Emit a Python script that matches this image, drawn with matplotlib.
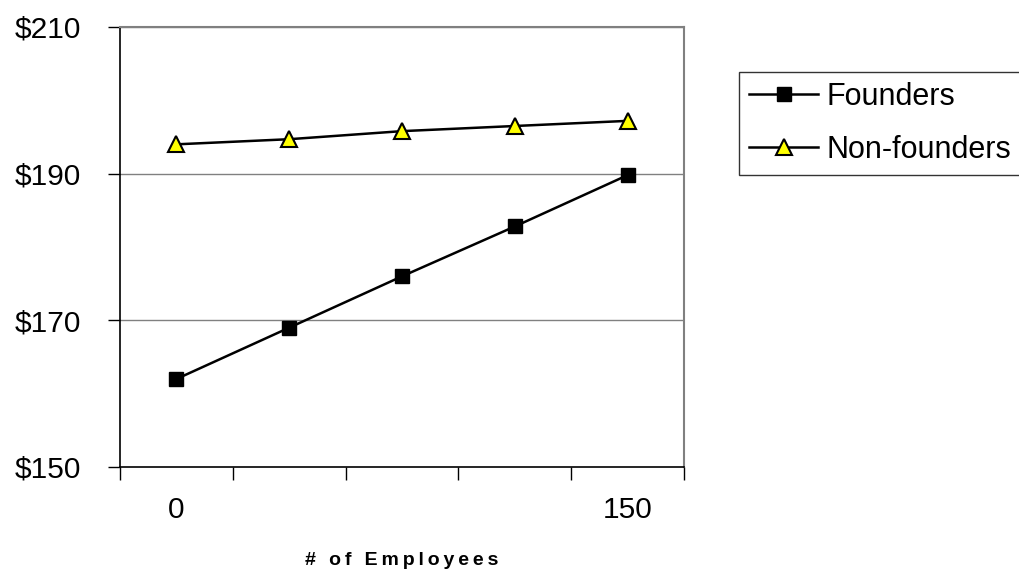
import matplotlib
matplotlib.use("Agg")
import matplotlib.pyplot as plt
import numpy as np

plt.rcParams["font.family"] = ["Liberation Sans", "DejaVu Sans"]

# data
categories = ["0", "", "", "", "150"]
founders = [162.0, 169.0, 176.0, 182.8, 189.8]
non_founders = [194.0, 194.7, 195.8, 196.5, 197.2]
y_ticks = [150, 170, 190, 210]
y_labels = ["$150", "$170", "$190", "$210"]
x_title = "# of Employees"

fig = plt.figure(figsize=(10.2, 5.78), dpi=100)
ax = fig.add_axes([120 / 1020, 1 - 467 / 578, 564 / 1020, 440 / 578])

x = np.arange(len(categories))
ax.plot(x, founders, color="black", linewidth=1.8, marker="s", markersize=10,
        markerfacecolor="black", markeredgecolor="black", label="Founders", zorder=3)
ax.plot(x, non_founders, color="black", linewidth=1.8, marker="^", markersize=12,
        markerfacecolor="#FFFF00", markeredgecolor="black", markeredgewidth=1.5,
        label="Non-founders", zorder=3)

ax.set_xlim(-0.5, len(categories) - 0.5)
ax.set_ylim(150, 210)
ax.set_yticks(y_ticks)
ax.set_yticklabels(y_labels, fontsize=21.5)
ax.set_xticks(x)
ax.set_xticklabels(categories, fontsize=21.5)
ax.set_xticks(np.arange(-0.5, len(categories)), minor=True)
ax.tick_params(axis="x", which="major", length=0, pad=21)
ax.tick_params(axis="x", which="minor", length=9, width=1, color="black")
ax.tick_params(axis="y", length=9, width=1, pad=19, color="black")

for yv in y_ticks[1:]:
    ax.axhline(yv, color="#808080", linewidth=1, zorder=1)

ax.spines["top"].set_color("#808080")
ax.spines["right"].set_color("#808080")
ax.spines["top"].set_linewidth(1.5)
ax.spines["right"].set_linewidth(1.5)
ax.spines["left"].set_linewidth(1.2)
ax.spines["bottom"].set_linewidth(1.2)

# letter-spaced axis title like the original
ax.set_xlabel("\u2009".join(x_title), fontsize=14, fontweight="bold", labelpad=20)

leg = fig.legend(loc="upper left", bbox_to_anchor=(739 / 1020, 1 - 72 / 578),
                 fontsize=22, frameon=True, fancybox=False, shadow=False,
                 handlelength=2.26, borderpad=0.33, labelspacing=0.75,
                 handletextpad=0.26, borderaxespad=0)
leg.get_frame().set_edgecolor("black")
leg.get_frame().set_linewidth(1)

fig.savefig("out.png", dpi=100)
